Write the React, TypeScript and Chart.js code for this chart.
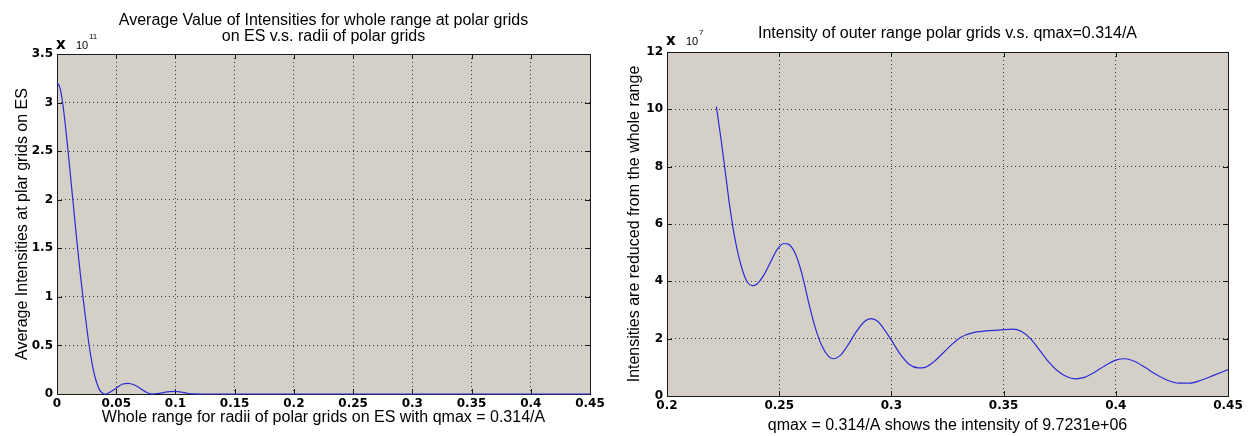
import React, { useEffect, useRef } from "react";
import { Chart, registerables } from "chart.js";

Chart.register(...registerables);

// ---------- Left chart data (values in units of 1e11) ----------
const radii = [0, 0.002, 0.004, 0.006, 0.008, 0.01, 0.012, 0.014, 0.016, 0.018, 0.02, 0.022, 0.024, 0.026, 0.028, 0.03, 0.032, 0.034, 0.036, 0.038, 0.04, 0.042, 0.045, 0.05, 0.055, 0.06, 0.065, 0.07, 0.075, 0.078, 0.08, 0.085, 0.09, 0.095, 0.1, 0.105, 0.11, 0.115, 0.12, 0.2, 0.3, 0.45];
const avgIntensity = [3.2, 3.17, 3.06, 2.88, 2.66, 2.42, 2.17, 1.92, 1.67, 1.43, 1.2, 0.99, 0.79, 0.6, 0.43, 0.29, 0.18, 0.1, 0.04, 0.012, 0, 0.003, 0.02, 0.06, 0.1, 0.11, 0.095, 0.06, 0.02, 0.005, 0, 0.005, 0.015, 0.025, 0.028, 0.02, 0.008, 0.001, 0, 0, 0, 0];
const leftXTicks = [0, 0.05, 0.1, 0.15, 0.2, 0.25, 0.3, 0.35, 0.4, 0.45];
const leftXLabels = ["0", "0.05", "0.1", "0.15", "0.2", "0.25", "0.3", "0.35", "0.4", "0.45"];
const leftYTicks = [0, 0.5, 1, 1.5, 2, 2.5, 3, 3.5];
const leftYLabels = ["0", "0.5", "1", "1.5", "2", "2.5", "3", "3.5"];

// ---------- Right chart data (values in units of 1e7) ----------
const qValues = [0.222, 0.224, 0.226, 0.228, 0.23, 0.232, 0.234, 0.236, 0.238, 0.24, 0.243, 0.246, 0.249, 0.252, 0.254, 0.257, 0.26, 0.263, 0.266, 0.269, 0.272, 0.274, 0.277, 0.28, 0.284, 0.288, 0.291, 0.294, 0.297, 0.3, 0.304, 0.308, 0.312, 0.315, 0.319, 0.323, 0.327, 0.331, 0.336, 0.342, 0.348, 0.354, 0.358, 0.362, 0.366, 0.37, 0.374, 0.378, 0.382, 0.386, 0.39, 0.395, 0.4, 0.404, 0.408, 0.413, 0.418, 0.423, 0.428, 0.433, 0.438, 0.443, 0.45];
const outerIntensity = [10.1, 9.0, 7.8, 6.6, 5.6, 4.85, 4.3, 3.95, 3.85, 3.9, 4.2, 4.65, 5.1, 5.32, 5.3, 5.0, 4.3, 3.3, 2.4, 1.75, 1.38, 1.3, 1.4, 1.7, 2.2, 2.6, 2.7, 2.6, 2.3, 1.95, 1.45, 1.1, 0.98, 1.0, 1.2, 1.5, 1.8, 2.05, 2.2, 2.27, 2.3, 2.33, 2.25, 2.0, 1.6, 1.2, 0.88, 0.68, 0.6, 0.65, 0.8, 1.05, 1.25, 1.3, 1.22, 1.0, 0.75, 0.55, 0.45, 0.45, 0.55, 0.7, 0.92];
const rightXTicks = [0.2, 0.25, 0.3, 0.35, 0.4, 0.45];
const rightXLabels = ["0.2", "0.25", "0.3", "0.35", "0.4", "0.45"];
const rightYTicks = [0, 2, 4, 6, 8, 10, 12];
const rightYLabels = ["0", "2", "4", "6", "8", "10", "12"];

const TEXT_FONT = "'Liberation Sans', Arial, sans-serif";
const TICK_FONT = "'DejaVu Sans', sans-serif";
const PLOT_BG = "#d4d0c8";
const LINE_COLOR = "#2b2bd6";

const matlabPlugin = {
  id: "matlab",
  beforeDraw(chart: any) {
    const { ctx, chartArea: a } = chart;
    ctx.save();
    ctx.fillStyle = PLOT_BG;
    ctx.fillRect(a.left, a.top, a.right - a.left, a.bottom - a.top);
    ctx.restore();
  },
  beforeDatasetsDraw(chart: any) {
    const { ctx, chartArea: a } = chart;
    const xs = chart.scales.x;
    const ys = chart.scales.y;
    ctx.save();
    ctx.strokeStyle = "#1a1a1a";
    ctx.lineWidth = 1;
    ctx.strokeRect(Math.round(a.left) + 0.5, Math.round(a.top) + 0.5, Math.round(a.right - a.left), Math.round(a.bottom - a.top));
    const tl = 5;
    ctx.beginPath();
    xs.ticks.forEach((t: any) => {
      const px = Math.round(xs.getPixelForValue(t.value)) + 0.5;
      ctx.moveTo(px, a.bottom);
      ctx.lineTo(px, a.bottom - tl);
      ctx.moveTo(px, a.top);
      ctx.lineTo(px, a.top + tl);
    });
    ys.ticks.forEach((t: any) => {
      const py = Math.round(ys.getPixelForValue(t.value)) + 0.5;
      ctx.moveTo(a.left, py);
      ctx.lineTo(a.left + tl, py);
      ctx.moveTo(a.right, py);
      ctx.lineTo(a.right - tl, py);
    });
    ctx.stroke();
    ctx.restore();
  },
  afterDraw(chart: any, _args: any, opts: any) {
    const { ctx, chartArea: a } = chart;
    ctx.save();
    ctx.fillStyle = "#000";
    ctx.textAlign = "center";
    ctx.textBaseline = "middle";
    ctx.font = `16px ${TEXT_FONT}`;
    const cx = (a.left + a.right) / 2;
    (opts.titleLines || []).forEach((line: string, i: number) => {
      ctx.fillText(line, cx, opts.titleY[i]);
    });
    // exponent label
    ctx.textAlign = "left";
    ctx.textBaseline = "alphabetic";
    ctx.font = `bold 15px ${TICK_FONT}`;
    ctx.fillText("x", a.left - 1, opts.expBaseline);
    ctx.font = `11px ${TEXT_FONT}`;
    ctx.fillText("10", a.left + 19, opts.expBaseline);
    ctx.font = `8px ${TEXT_FONT}`;
    ctx.fillText(opts.exponent, a.left + 32, opts.expBaseline - 10);
    ctx.restore();
  },
};

function makeConfig(p: {
  xs: number[];
  ys: number[];
  xTicks: number[];
  xLabels: string[];
  yTicks: number[];
  yLabels: string[];
  xMin: number;
  xMax: number;
  yMin: number;
  yMax: number;
  padding: any;
  yWidth: number;
  xHeight: number;
  xTitle: string;
  xTitlePad: number;
  yTitle: string;
  yTitlePad: number;
  titleLines: string[];
  titleY: number[];
  exponent: string;
  expBaseline: number;
}): any {
  const points = p.xs.map((x, i) => ({ x, y: p.ys[i] }));
  const grid = {
    display: true,
    color: "#3a3a3a",
    lineWidth: 1,
    drawTicks: false,
  };
  return {
    type: "line",
    data: {
      datasets: [
        {
          data: points,
          borderColor: LINE_COLOR,
          borderWidth: 1.2,
          pointRadius: 0,
          fill: false,
          cubicInterpolationMode: "monotone",
          clip: 4,
        },
      ],
    },
    options: {
      responsive: false,
      animation: false,
      events: [],
      layout: { padding: p.padding },
      plugins: {
        legend: { display: false },
        tooltip: { enabled: false },
        title: { display: false },
        matlab: {
          titleLines: p.titleLines,
          titleY: p.titleY,
          exponent: p.exponent,
          expBaseline: p.expBaseline,
        },
      },
      scales: {
        x: {
          type: "linear",
          min: p.xMin,
          max: p.xMax,
          afterBuildTicks: (s: any) => {
            s.ticks = p.xTicks.map((v) => ({ value: v }));
          },
          afterFit: (s: any) => {
            s.height = p.xHeight;
          },
          border: { display: false, dash: [1, 3] },
          grid: { ...grid },
          ticks: {
            autoSkip: false,
            maxRotation: 0,
            padding: 3,
            color: "#000",
            font: { family: TICK_FONT, size: 12, weight: "bold" },
            callback: (_v: any, i: number) => p.xLabels[i],
          },
          title: {
            display: true,
            text: p.xTitle,
            color: "#000",
            font: { family: TEXT_FONT, size: 16 },
            padding: { top: 0, bottom: p.xTitlePad },
          },
        },
        y: {
          type: "linear",
          min: p.yMin,
          max: p.yMax,
          afterBuildTicks: (s: any) => {
            s.ticks = p.yTicks.map((v) => ({ value: v }));
          },
          afterFit: (s: any) => {
            s.width = p.yWidth;
          },
          border: { display: false, dash: [1, 3] },
          grid: { ...grid },
          ticks: {
            autoSkip: false,
            padding: 4,
            color: "#000",
            font: { family: TICK_FONT, size: 12, weight: "bold" },
            callback: (_v: any, i: number) => p.yLabels[i],
          },
          title: {
            display: true,
            text: p.yTitle,
            color: "#000",
            font: { family: TEXT_FONT, size: 16 },
            padding: { top: p.yTitlePad, bottom: 0 },
          },
        },
      },
    },
    plugins: [matlabPlugin],
  };
}

export default function App() {
  const leftRef = useRef<HTMLCanvasElement | null>(null);
  const rightRef = useRef<HTMLCanvasElement | null>(null);

  useEffect(() => {
    const c1 = new Chart(
      leftRef.current as HTMLCanvasElement,
      makeConfig({
        xs: radii,
        ys: avgIntensity,
        xTicks: leftXTicks,
        xLabels: leftXLabels,
        yTicks: leftYTicks,
        yLabels: leftYLabels,
        xMin: 0,
        xMax: 0.45,
        yMin: 0,
        yMax: 3.5,
        padding: { left: 0, top: 54, right: 30, bottom: 0 },
        yWidth: 57,
        xHeight: 42,
        xTitle: "Whole range for radii of polar grids on ES with qmax = 0.314/A",
        xTitlePad: 9,
        yTitle: "Average Intensities at plar grids on ES",
        yTitlePad: 13,
        titleLines: [
          "Average Value of Intensities for whole range at polar grids",
          "on ES v.s. radii of polar grids",
        ],
        titleY: [21, 37],
        exponent: "11",
        expBaseline: 49,
      })
    );
    const c2 = new Chart(
      rightRef.current as HTMLCanvasElement,
      makeConfig({
        xs: qValues,
        ys: outerIntensity,
        xTicks: rightXTicks,
        xLabels: rightXLabels,
        yTicks: rightYTicks,
        yLabels: rightYLabels,
        xMin: 0.2,
        xMax: 0.45,
        yMin: 0,
        yMax: 12,
        padding: { left: 0, top: 52, right: 25, bottom: 0 },
        yWidth: 67,
        xHeight: 40,
        xTitle: "qmax = 0.314/A shows the intensity of 9.7231e+06",
        xTitlePad: 1,
        yTitle: "Intensities are reduced from the whole range",
        yTitlePad: 25,
        titleLines: ["Intensity of outer range polar grids v.s. qmax=0.314/A"],
        titleY: [34],
        exponent: "7",
        expBaseline: 45,
      })
    );
    return () => {
      c1.destroy();
      c2.destroy();
    };
  }, []);

  return (
    <div
      style={{
        position: "absolute",
        left: 0,
        top: 0,
        width: 1253,
        height: 436,
        background: "#fff",
        overflow: "hidden",
      }}
    >
      <canvas
        ref={leftRef}
        width={620}
        height={436}
        style={{ position: "absolute", left: 0, top: 0, width: 620, height: 436 }}
      />
      <canvas
        ref={rightRef}
        width={653}
        height={436}
        style={{ position: "absolute", left: 600, top: 0, width: 653, height: 436 }}
      />
    </div>
  );
}
